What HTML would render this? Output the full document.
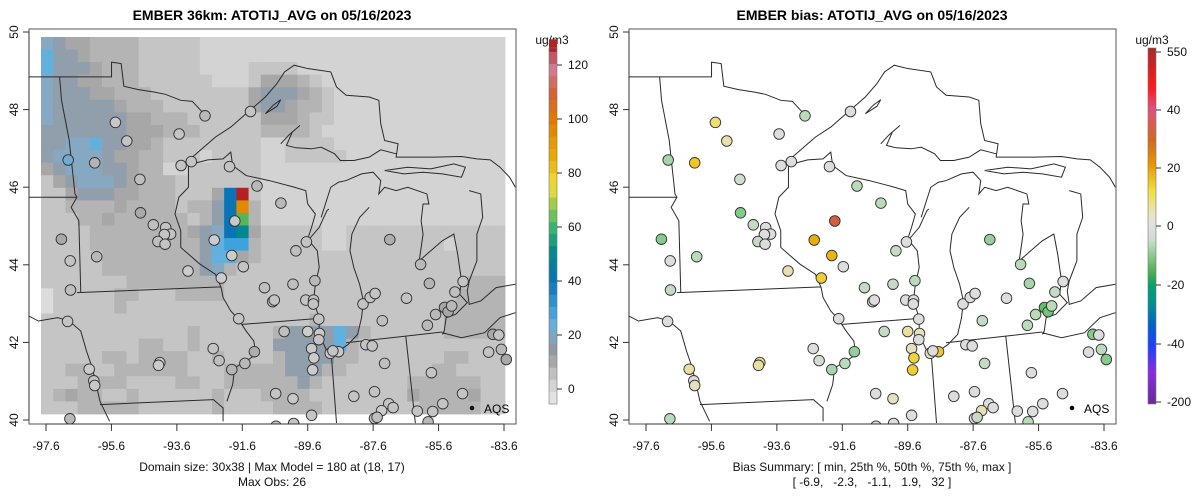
<!DOCTYPE html>
<html><head><meta charset="utf-8">
<style>
html,body{margin:0;padding:0;background:#fff;}
svg{display:block;font-family:"Liberation Sans",Arial,sans-serif;}
</style></head>
<body>
<svg id="chart" width="1200" height="502" viewBox="0 0 1200 502" xmlns="http://www.w3.org/2000/svg">
<defs>
<clipPath id="clipP"><rect x="29" y="29" width="487" height="395"/></clipPath>
<linearGradient id="biasGrad" x1="0" y1="0" x2="0" y2="1">
<stop offset="0" stop-color="#a52a2a"/><stop offset="0.11" stop-color="#ff1a1a"/>
<stop offset="0.17" stop-color="#e0507a"/><stop offset="0.26" stop-color="#d2691e"/>
<stop offset="0.33" stop-color="#e89a00"/><stop offset="0.40" stop-color="#f0e040"/>
<stop offset="0.47" stop-color="#e8e4c8"/><stop offset="0.50" stop-color="#e0e0e0"/>
<stop offset="0.54" stop-color="#c8e0c8"/><stop offset="0.63" stop-color="#4caf50"/>
<stop offset="0.67" stop-color="#00a070"/><stop offset="0.72" stop-color="#009090"/>
<stop offset="0.78" stop-color="#0060d0"/><stop offset="0.84" stop-color="#1e40ff"/>
<stop offset="0.91" stop-color="#8a2be2"/><stop offset="1" stop-color="#6a2a9a"/>
</linearGradient>
</defs>
<g id="root"></g>
</svg>
<script>
// ---- data ----
const gridRows = [
"hgeeddddmmmmmlllllllllllllllllllllllll",
"bggeddddmmmmmlllllllllllllllllllllllll",
"bgggedddmmmmmllllmmmmlllllllllllllllll",
"hggeedddmmmmmmlllmeeedmlllllllllllllll",
"hgggeedddmmmmmmmmegggedmllllllllllllll",
"hgggggedddmmmmmmmeggeddmllllllllllllll",
"hggggggeedddmmmmmmeeedmmllllllllllllll",
"gggggggeeedddmmmmmddddmlllllllllllllll",
"gghhbggeedmmmmmmmmllmmmmllllllllllllll",
"ghhhhgeeddmmmlmmmmllmmmmmlllllllllllll",
"eghhhggeddllmmmmmmllllllllllllllllllll",
"meghhhgedddmmmmmmmllllllllllllllllllll",
"mmegggeedddmmmeKRmllllllllllllllllllll",
"mmddddeddddmddgKOdllllllllllllllllllll",
"mmmddeddddddmdgKGdllllllllllllllllllll",
"mmmmddddddddeghKTemmmmmllmmmmmmmmmmmmm",
"mmmmdddddddddgbSSdmmmmmllmmmmmmmmlmmmm",
"mmmmmddddddddgbbedmmmmmmmmmmmmmmmmmmmm",
"mmmmmddddddddghdmmmmmmmmmmmmmmmmmmmmmm",
"mmmmmmmddddddddmmmmmmmmmmmmmmmmmmmmddd",
"wmmmmmddmmmddddmmmmmmmmmmmmmmmmmmmdddd",
"wmmmmmdmmmmmmmmmmmmmmmmmmmmmmmmmmddddd",
"mmmmmmmmmmmmmmmmmmmmmmdmmmmmmmmmmddddd",
"mmmmmmmmmmmmdmmmmmmdggggbgdmmmmmmddddd",
"mmmmmmmmddmmdmmmmmmgggggbdmmmmmmmmmmmm",
"mmmmmddmddddmmdmmmmdggggddmmmmmmmddmmm",
"mmddmmddddddmmmdddddgggddmmmmmmmddmmmm",
"mmmddddmmmmddmmddddddgdmmmmmmmddddddmm",
"mdeddmmdmmmmmmdmmmddddmmmmmmmmeddddemm",
"mmmdddddmmmmmmdmmmmddddmmmmmmmmdddddmm"
];
const levelColors = {w:"#dcdcdc",l:"#d3d3d3",m:"#c5c5c5",d:"#b4b4b4",e:"#a7a7a7",g:"#909fab",h:"#86a8c2",b:"#62b0de",S:"#3ea3dd",K:"#0a74b6",R:"#b22222",O:"#e08a00",G:"#55b55a",T:"#00878f"};

const stLon = [-95.48,-95.13,-92.74,-91.35,-93.53,-96.92,-96.11,-93.47,-93.16,-91.99,-94.73,-91.15,-90.42,-94.71,-94.32,-93.94,-93.79,-93.98,-94.18,-93.96,-97.13,-91.83,-92.46,-91.92,-91.57,-89.64,-89.96,-96.86,-96.05,-93.26,-92.24,-96.85,-90.92,-90.05,-89.38,-90.67,-90.62,-89.66,-89.42,-89.43,-91.71,-89.26,-96.94,-90.32,-89.60,-89.24,-89.26,-92.49,-92.31,-91.23,-91.52,-91.92,-94.12,-94.16,-96.28,-96.14,-96.11,-89.48,-89.41,-89.45,-88.91,-88.66,-88.83,-87.82,-87.63,-87.25,-90.58,-90.05,-89.48,-90.03,-90.57,-88.19,-87.56,-87.12,-86.99,-87.34,-87.56,-87.48,-86.25,-85.78,-85.47,-85.92,-84.87,-85.82,-87.09,-86.15,-85.88,-84.85,-85.10,-87.91,-87.69,-87.54,-86.58,-85.42,-85.31,-85.20,-85.69,-87.32,-85.94,-83.94,-83.76,-84.07,-83.68,-83.53,-96.87];
const stLat = [47.67,47.19,47.84,47.95,47.37,46.70,46.63,46.56,46.66,46.53,46.20,46.03,45.59,45.34,45.03,44.96,44.79,44.78,44.60,44.53,44.66,45.13,44.64,44.24,43.95,44.59,44.36,44.10,44.21,43.84,43.66,43.35,43.41,43.50,43.59,43.05,43.09,43.09,43.09,42.99,42.61,42.60,42.54,42.28,42.28,42.23,42.07,41.84,41.53,41.76,41.46,41.30,41.48,41.41,41.31,41.01,40.89,41.84,41.60,41.29,41.72,41.76,41.78,41.94,41.91,41.46,40.68,40.55,40.12,39.91,39.84,40.61,40.73,40.42,40.32,40.24,40.04,40.07,40.23,40.22,40.42,39.95,40.68,41.22,44.65,44.01,43.52,43.57,43.30,42.99,43.16,43.26,43.14,42.90,42.79,42.94,42.72,42.56,42.44,42.21,42.19,41.75,41.82,41.56,40.03];
const stBias = [8,4,-3,0,0,-4,14,0,0,0,-1,-3,-3,-6,-2,0,0,0,-2,0,-6,32,18,17,0,0,-2,0,-3,4,13,-2,-2,-2,-3,-2,0,0,0,0,0,0,0,-2,5,3,0,0,-1,-5,-3,-4,6,5,5,0,3,3,12,13,2,14,0,0,0,-2,0,3,0,0,0,0,0,0,0,4,0,-2,0,0,0,-3,0,0,-5,-3,-4,0,-2,0,0,0,0,-8,-7,-3,-3,-2,-3,-6,0,0,-3,-6,-3];
const stObs = [4,5,7,5,5,22,8,5,5,5,6,7,7,10,6,5,5,5,6,5,10,4,3,3,5,5,6,5,7,3,3,6,6,6,7,6,5,5,5,5,5,5,5,6,3,4,5,5,6,9,7,8,3,3,3,5,4,4,3,3,4,4,5,5,5,6,5,4,5,5,5,5,5,5,5,3,5,6,5,5,5,7,5,5,9,7,8,5,6,5,5,5,5,11,10,7,7,6,7,10,5,5,7,10,7];

const lonTicks = [-97.6,-95.6,-93.6,-91.6,-89.6,-87.6,-85.6,-83.6];
const latTicks = [50,48,46,44,42,40];
const modelTicks = [0,20,40,60,80,100,120];
const biasTickLabels = ["550","40","20","0","-20","-40","-200"];

// ---- helpers ----
const NS="http://www.w3.org/2000/svg";
const root=document.getElementById('root');
function mk(tag,attrs,parent){const e=document.createElementNS(NS,tag);for(const k in attrs)e.setAttribute(k,attrs[k]);(parent||root).appendChild(e);return e;}
const xLon = lon => 46 + (lon + 97.6) * (458/14);
const yLat = lat => 32 + (50 - lat) * 38.8;
function hex2rgb(h){return [parseInt(h.substr(1,2),16),parseInt(h.substr(3,2),16),parseInt(h.substr(5,2),16)];}
function interp(stops,v){
  if(v<=stops[0][0])return stops[0][1];
  for(let i=1;i<stops.length;i++){if(v<=stops[i][0]){const a=stops[i-1],b=stops[i];const t=(v-a[0])/(b[0]-a[0]);const ca=hex2rgb(a[1]),cb=hex2rgb(b[1]);return 'rgb('+ca.map((c,k)=>Math.round(c+(cb[k]-c)*t)).join(',')+')';}}
  return stops[stops.length-1][1];
}
const modelStops=[[-5,"#e6e6e6"],[0,"#d9d9d9"],[5,"#c4c4c4"],[10,"#a9a9a9"],[15,"#8f98a0"],[20,"#7fa7c4"],[25,"#5fb0e0"],[30,"#3a9ad8"],[40,"#0a74b6"],[50,"#00878f"],[60,"#3cb371"],[70,"#b5d040"],[75,"#f0e040"],[85,"#e8b000"],[100,"#e07a00"],[110,"#d4603a"],[120,"#d080a0"],[126,"#b22222"]];
const biasStops=[[-40,"#2040ff"],[-20,"#00a070"],[-8,"#5fbf6a"],[-3,"#b8dcb8"],[0,"#dddddd"],[4,"#e8e0b0"],[10,"#f0e050"],[15,"#f0c020"],[20,"#e8a000"],[30,"#d06030"],[40,"#d9607a"]];

const mapPath = "M75,230 L290,230 L290,186 L315,190 L322,258 L360,268 L400,275 L430,282 L470,300 L500,303 L530,340 "+
"M490,480 L520,450 L560,410 L600,380 L630,350 L660,320 L690,290 L720,250 L740,215 L765,195 L800,205 L860,215 L875,260 L900,285 L960,290 L985,300 L990,370 L1000,420 L1035,430 L1030,470 L1060,470 L1130,470 L1200,468 L1240,475 L1275,478 L1300,500 L1325,530 L1340,560 "+
"M1000,510 L1060,500 L1120,505 L1180,490 L1210,500 L1200,530 L1150,520 L1100,515 L1050,520 L1000,510 "+
"M690,340 L710,315 L730,298 L720,318 L690,340 "+
"M500,490 L540,478 L580,475 L600,455 L605,495 L640,525 L700,540 L760,558 L795,570 L800,610 "+
"M730,430 L750,405 L780,375 L760,395 L745,435 L770,442 L810,445 L835,440 L870,460 L885,480 L920,480 L960,470 L990,448 L1030,460 "+
"M800,720 L830,680 L850,630 L855,625 "+
"M800,610 L820,640 L810,680 L800,715 L825,750 L830,800 L820,850 L815,900 L830,950 L830,1000 L850,1050 L880,1050 L905,1030 L930,1000 L940,950 L945,900 L935,850 L920,800 L910,750 L915,700 L935,650 L960,620 "+
"M835,650 L860,560 L880,545 L900,540 L940,520 L970,515 L990,540 L985,580 L1000,560 L1030,570 L1060,560 L1110,580 L1115,610 L1100,610 L1095,660 L1100,700 L1090,780 L1110,760 L1150,720 L1180,700 L1190,760 L1200,840 L1195,880 L1215,905 L1185,940 L1160,950 L1155,990 L1150,1000 "+
"M1220,570 L1250,580 L1255,650 L1240,700 L1240,780 L1220,840 L1215,870 L1220,910 L1250,900 L1290,860 L1340,850 "+
"M1150,995 L1200,1010 L1260,995 L1300,950 L1340,935 "+
"M155,230 L160,300 L180,420 L195,580 L200,590 L185,620 L205,660 L210,875 M75,590 L200,590 "+
"M200,875 L575,858 "+
"M75,945 L100,960 L150,950 L180,960 L210,990 L225,1050 L240,1100 L250,1150 L260,1200 L285,1260 "+
"M260,1210 L555,1195 L580,1220 L580,1260 "+
"M490,495 L490,560 L465,590 L455,640 L470,690 L470,740 L520,790 L560,820 L575,860 L580,890 L600,930 L620,955 L640,990 L660,1020 L665,1060 L640,1080 L610,1100 L605,1150 L590,1200 "+
"M630,970 L830,952 M860,1040 L875,1265 M900,1025 L1055,1005 L1150,993 M1055,1005 L1080,1265";

function drawPanel(ox, isBias){
  const pn = isBias ? 'bias' : 'model';
  const panel = mk('g',{});
  
  
  const shift = mk('g',{transform:'translate('+ox+',0)'},panel);
  const clip = mk('g',{'clip-path':'url(#clipP)'},shift);
  if(!isBias){
    const grid = mk('g',{},clip);
    
    
    const cw=464/38, ch=377/30;
    gridRows.forEach((row,j)=>{
      for(let i=0;i<38;i++){
        const c=mk('rect',{x:(41+i*cw).toFixed(2),y:(37+j*ch).toFixed(2),width:(cw+0.4).toFixed(2),height:(ch+0.4).toFixed(2),fill:levelColors[row[i]]||'#d3d3d3'},grid);
        
        
      }
    });
  }
  const m = mk('path',{d:mapPath,fill:'none',stroke:'#2a2a2a','stroke-width':1,'vector-effect':'non-scaling-stroke',transform:'scale(0.3846,0.3344)'},clip);
  
  
  const pts = mk('g',{},clip);
  
  
  for(let k=0;k<stLon.length;k++){
    const fill = isBias ? interp(biasStops,stBias[k]) : interp(modelStops,stObs[k]);
    const c=mk('circle',{cx:xLon(stLon[k]).toFixed(1),cy:yLat(stLat[k]).toFixed(1),r:5.3,fill:fill,stroke:'#333','stroke-width':0.9},pts);
    
    
  }
  const fr=mk('rect',{x:29,y:29,width:487,height:395,fill:'none',stroke:'#555','stroke-width':1},shift);
  
  
  const xa=mk('g',{},shift);
  
  
  mk('line',{x1:xLon(lonTicks[0]),x2:xLon(lonTicks[lonTicks.length-1]),y1:424,y2:424,stroke:'#333'},xa);
  lonTicks.forEach(t=>{
    const x=xLon(t);
    mk('line',{x1:x,x2:x,y1:424,y2:431,stroke:'#333'},xa);
    const tx=mk('text',{x:x,y:450,'font-size':12,'text-anchor':'middle',fill:'#111'},xa);
    tx.textContent=t.toFixed(1);
    
    
  });
  const ya=mk('g',{},shift);
  
  
  mk('line',{x1:29,x2:29,y1:yLat(50),y2:yLat(40),stroke:'#333'},ya);
  latTicks.forEach(t=>{
    const y=yLat(t);
    mk('line',{x1:23,x2:29,y1:y,y2:y,stroke:'#333'},ya);
    const tx=mk('text',{x:18,y:y,'font-size':12,'text-anchor':'middle',fill:'#111',transform:'rotate(-90 18 '+y+')'},ya);
    tx.textContent=String(t);
    
    
  });
  const ti=mk('text',{x:272,y:20,'font-size':14,'font-weight':'bold','text-anchor':'middle',fill:'#000'},shift);
  ti.textContent = isBias ? 'EMBER bias: ATOTIJ_AVG on 05/16/2023' : 'EMBER 36km: ATOTIJ_AVG on 05/16/2023';
  
  
  const lg=mk('g',{},shift);
  
  
  mk('circle',{cx:472,cy:408,r:2.3,fill:'#000'},lg);
  const lt=mk('text',{x:484,y:413,'font-size':12,fill:'#000'},lg);
  lt.textContent='AQS';
  const c1=mk('text',{x:272,y:471,'font-size':12,'text-anchor':'middle',fill:'#111'},shift);
  c1.textContent = isBias ? 'Bias Summary: [ min, 25th %, 50th %, 75th %, max ]' : 'Domain size: 30x38 | Max Model = 180 at (18, 17)';
  
  
  const c2=mk('text',{x:272,y:486,'font-size':12,'text-anchor':'middle',fill:'#111',style:'white-space:pre'},shift);
  c2.textContent = isBias ? '[ -6.9,   -2.3,   -1.1,   1.9,   32 ]' : 'Max Obs: 26';
  
  
  const u=mk('text',{x:552,y:44,'font-size':12,'text-anchor':'middle',fill:'#111'},shift);
  u.textContent='ug/m3';
  
  
}
drawPanel(0,false);
drawPanel(600,true);

// model colorbar
const cb=mk('g',{});


const vY = v => 389 - v*(54/20);
for(let v=-5.5; v<126; v+=4.5){
  const r=mk('rect',{x:549,y:vY(v+4.5).toFixed(2),width:8,height:(4.5*54/20+0.3).toFixed(2),fill:interp(modelStops,v+2.2)},cb);
  
  
}
mk('rect',{x:549,y:48,width:8,height:356,fill:'none',stroke:'#777','stroke-width':0.6},cb);
modelTicks.forEach(t=>{
  const y=vY(t);
  mk('line',{x1:557,x2:562,y1:y,y2:y,stroke:'#333'},cb);
  const tx=mk('text',{x:568,y:y+4,'font-size':12,fill:'#111'},cb);
  tx.textContent=String(t);
  
  
});
// bias colorbar
const cb2=mk('g',{});


mk('rect',{x:1148,y:48,width:8,height:356,fill:'url(#biasGrad)',stroke:'#777','stroke-width':0.6},cb2);
const biasTickY=[52,110,168,226,285,344,402];
biasTickLabels.forEach((t,i)=>{
  const y=biasTickY[i];
  mk('line',{x1:1156,x2:1161,y1:y,y2:y,stroke:'#333'},cb2);
  const tx=mk('text',{x:1167,y:y+4,'font-size':12,fill:'#111'},cb2);
  tx.textContent=t;
  
  
});
</script>
</body></html>
